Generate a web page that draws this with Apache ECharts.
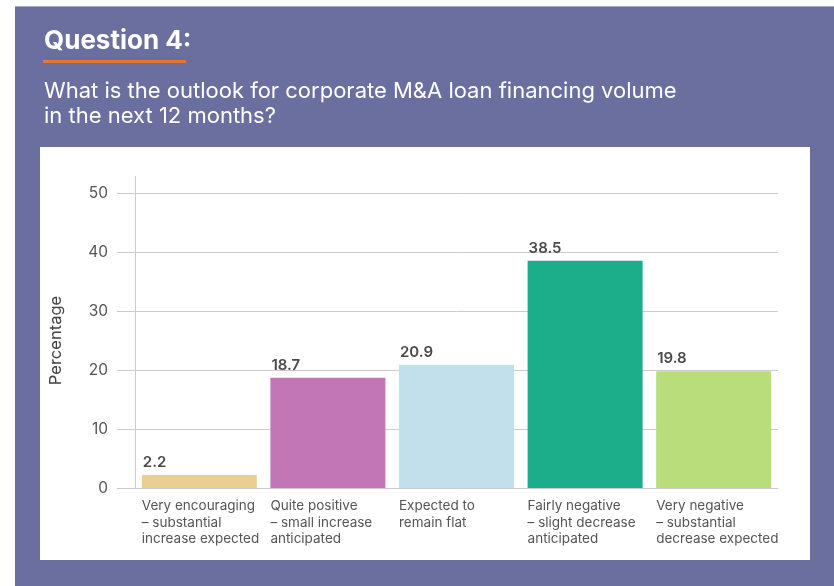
<!DOCTYPE html>
<html>
<head>
<meta charset="utf-8">
<script src="https://cdn.jsdelivr.net/npm/echarts@6/dist/echarts.min.js"></script>
<style>
html,body{margin:0;padding:0;background:#fff;}
#c{width:834px;height:586px;}
</style>
</head>
<body>
<div id="c"></div>
<script>
const categories = [
  ['Very encouraging', '– substantial', 'increase expected'],
  ['Quite positive', '– small increase', 'anticipated'],
  ['Expected to', 'remain flat'],
  ['Fairly negative', '– slight decrease', 'anticipated'],
  ['Very negative', '– substantial', 'decrease expected']
];
const values = [2.2, 18.7, 20.9, 38.5, 19.8];
const barColors = ['#e8d093', '#c376b6', '#c1e0ec', '#1cad8a', '#b8dd7a'];
const yTicks = [0, 10, 20, 30, 40, 50];

const FONT = 'Inter, "Liberation Sans", Arial, sans-serif';
const chart = echarts.init(document.getElementById('c'), null, {renderer: 'canvas'});

const option = {
  backgroundColor: '#6a6f9f',
  animation: false,
  textStyle: {fontFamily: FONT},
  graphic: [
    {type: 'rect', shape: {x: 0, y: 0, width: 834, height: 6}, style: {fill: '#ffffff'}, z: 1},
    {type: 'rect', shape: {x: 0, y: 6, width: 834, height: 1}, style: {fill: '#a7a9c2'}, z: 1},
    {type: 'rect', shape: {x: 0, y: 0, width: 15, height: 586}, style: {fill: '#ffffff'}, z: 2},
    {type: 'rect', shape: {x: 40, y: 147, width: 770, height: 413}, style: {fill: '#ffffff'}, z: -10},
    {type: 'rect', shape: {x: 43, y: 60, width: 143, height: 3}, style: {fill: '#e5772a'}, z: 1},
    {type: 'line', shape: {x1: 135.5, y1: 176, x2: 135.5, y2: 193}, style: {stroke: '#cccccc', lineWidth: 1}, z: 1}
  ],
  title: [
    {
      text: 'Question 4:',
      left: 44, top: 28, padding: 0,
      textStyle: {color: '#ffffff', fontSize: 26, fontWeight: 'bold', fontFamily: FONT}
    },
    {
      text: 'What is the outlook for corporate M&A loan financing volume\nin the next 12 months?',
      left: 44, top: 79, padding: 0,
      textStyle: {color: '#ffffff', fontSize: 22, fontWeight: 'normal', lineHeight: 25, fontFamily: FONT}
    }
  ],
  grid: {left: 135, right: 56, top: 193, bottom: 98},
  xAxis: {
    type: 'category',
    data: categories.map(c => c.join('\n')),
    axisLine: {lineStyle: {color: '#cccccc', width: 1}},
    axisTick: {show: false},
    axisLabel: {
      margin: 10,
      interval: 0,
      formatter: function (v) {
        return v.split('\n').map(s => '{a|' + s + '}').join('\n');
      },
      rich: {
        a: {width: 115, align: 'left', fontSize: 13.5, lineHeight: 16.5, color: '#555555', fontFamily: FONT}
      }
    }
  },
  yAxis: {
    type: 'value',
    min: 0, max: 50, interval: 10,
    name: 'Percentage',
    nameLocation: 'middle',
    nameGap: 70,
    nameTextStyle: {color: '#444444', fontSize: 16.5, fontFamily: FONT},
    axisLine: {show: true, lineStyle: {color: '#cccccc', width: 1}},
    axisTick: {show: true, length: 18, lineStyle: {color: '#cccccc'}},
    splitLine: {lineStyle: {color: '#cccccc', width: 1}},
    axisLabel: {
      margin: 27, fontSize: 15.5, color: '#555555', fontFamily: FONT,
      formatter: v => (yTicks.indexOf(v) >= 0 ? String(v) : '')
    }
  },
  series: [{
    type: 'bar',
    barWidth: 115,
    data: values.map((v, i) => ({value: v, itemStyle: {color: barColors[i]}})),
    label: {
      show: true,
      position: [1, -20],
      formatter: p => p.value.toFixed(1),
      fontSize: 15, fontWeight: 600, color: '#4a4a4a', fontFamily: FONT
    }
  }]
};
chart.setOption(option);
</script>
</body>
</html>
